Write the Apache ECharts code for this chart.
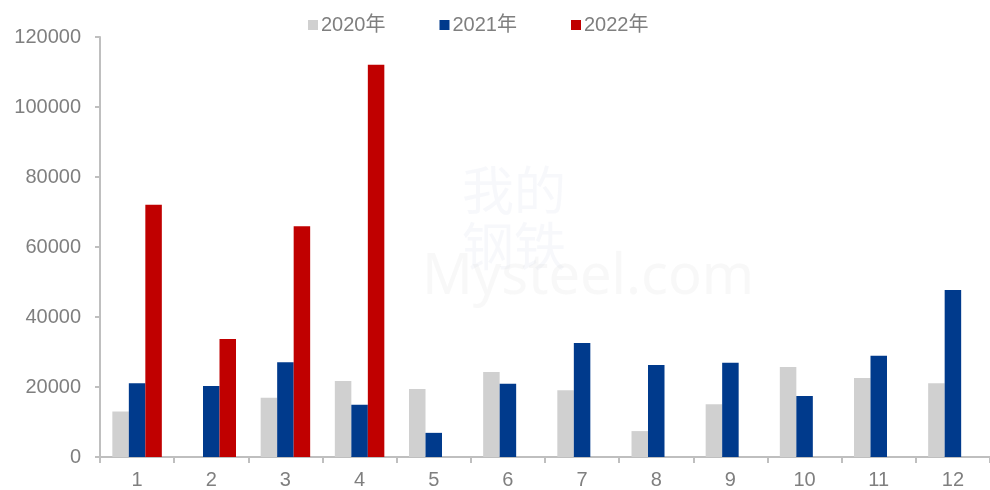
<!DOCTYPE html>
<html>
<head>
<meta charset="utf-8">
<script src="https://cdn.jsdelivr.net/npm/echarts@6/dist/echarts.min.js"></script>
<style>
  html, body { margin: 0; padding: 0; background: #fff; }
  #chart { width: 990px; height: 490px; }
</style>
</head>
<body>
<div id="chart"></div>
<script>
// 月份
const months = ['1', '2', '3', '4', '5', '6', '7', '8', '9', '10', '11', '12']
// 各年数据
const data2020 = [13000, null, 16900, 21700, 19400, 24300, 19100, 7400, 15100, 25700, 22600, 21100]
const data2021 = [21100, 20300, 27100, 14900, 6900, 20900, 32600, 26300, 26900, 17400, 28900, 47700]
const data2022 = [72100, 33700, 65900, 112100, null, null, null, null, null, null, null, null]
const seriesNames = ['2020年', '2021年', '2022年']
const seriesColors = ['#d0d0d0', '#003a8c', '#c00000']

const chart = echarts.init(document.getElementById('chart'))
const font = '"Liberation Sans Narrow", "Liberation Sans", "Noto Sans CJK SC", sans-serif'

const option = {
    animation: false,
    color: seriesColors,
    textStyle: { fontFamily: font },
    legend: {
        top: 10,
        left: 303,
        itemWidth: 10,
        itemHeight: 10,
        itemGap: 54,
        icon: 'rect',
        textStyle: { color: '#7f7f7f', fontSize: 20, fontFamily: font, padding: [0, 0, 0, -2] },
        data: seriesNames
    },
    // 水印
    graphic: [
        {
            type: 'text', left: 462, top: 162,
            style: { text: '我的\n钢铁', font: '52px "Noto Sans CJK SC"', fill: 'rgba(200,210,230,0.15)', lineHeight: 56 }
        },
        {
            type: 'text', left: 422, top: 250,
            style: { text: 'Mysteel.com', font: '56px "Noto Sans"', fill: 'rgba(215,215,215,0.18)' }
        }
    ],
    grid: {
        left: 100,
        right: 0,
        top: 37,
        bottom: 33,
        containLabel: false
    },
    xAxis: {
        type: 'category',
        data: months,
        axisLine: { lineStyle: { color: '#bfbfbf', width: 2 } },
        axisTick: { show: true, length: 6, lineStyle: { color: '#bfbfbf', width: 2 } },
        axisLabel: { color: '#7f7f7f', fontSize: 20, margin: 13, fontFamily: font }
    },
    yAxis: {
        type: 'value',
        min: 0,
        max: 120000,
        interval: 20000,
        splitLine: { show: false },
        axisLine: { show: true, lineStyle: { color: '#bfbfbf', width: 2 } },
        axisTick: { show: true, length: 5, lineStyle: { color: '#bfbfbf', width: 2 } },
        axisLabel: {
            color: '#7f7f7f', fontSize: 20, margin: 19, fontFamily: font,
            formatter: function (v) { return String(v) }
        }
    },
    series: [
        { name: seriesNames[0], type: 'bar', data: data2020, barWidth: 16.5, barGap: '0%' },
        { name: seriesNames[1], type: 'bar', data: data2021, barWidth: 16.5, barGap: '0%' },
        { name: seriesNames[2], type: 'bar', data: data2022, barWidth: 16.5, barGap: '0%' }
    ]
}
chart.setOption(option)
</script>
</body>
</html>
